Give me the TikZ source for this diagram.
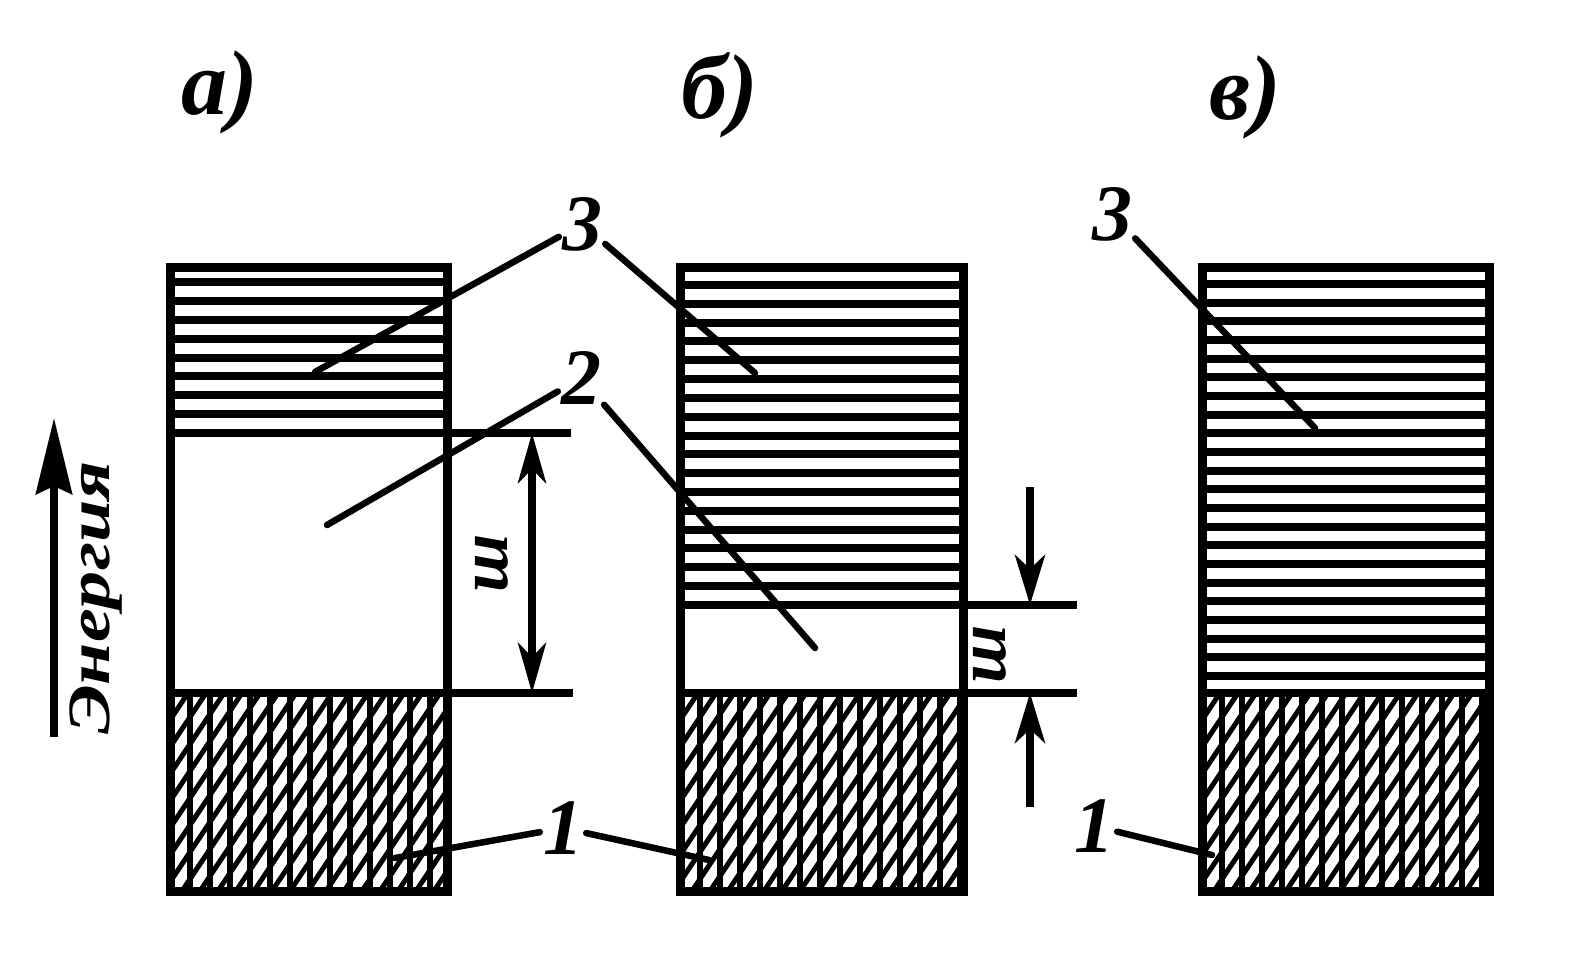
\documentclass[tikz,border=0pt]{standalone}
\usepackage{fontspec}
\setmainfont{Liberation Serif}
\usetikzlibrary{arrows.meta}

\begin{document}
\begin{tikzpicture}[x=1pt,y=-1pt]
        \tikzstyle{frame}=[line width=9pt]
        \tikzstyle{stripe}=[line width=8pt]
        \tikzstyle{hatch}=[line width=5.5pt]
        \tikzstyle{slant}=[line width=5pt]
        \tikzstyle{leader}=[line width=6.5pt,line cap=round]
        \tikzstyle{dimline}=[line width=7.5pt]
        \tikzstyle{tip}=[-{Stealth[length=50pt,width=30pt,inset=14pt]}]
        \tikzstyle{every node}=[font=\bfseries\itshape,inner sep=3pt]
        \tikzstyle{num}=[font=\bfseries\itshape\fontsize{80}{80}\selectfont]
        \tikzstyle{case}=[font=\bfseries\itshape\fontsize{92}{92}\selectfont]
        \tikzstyle{gap}=[font=\bfseries\itshape\fontsize{70}{70}\selectfont,rotate=90]
        \useasboundingbox (0,0) rectangle (1574,974);
        % lower bands, cross hatched
        \foreach \l/\r in {170/447,680/963,1202/1489}{
          \begin{scope}
            \clip (\l,693) rectangle (\r,891);
            \foreach \k in {0,...,14} \draw[hatch] (\l+20*\k,693) -- (\l+20*\k,891);
            \foreach \k in {0,...,22} \draw[slant] (\l,693+27*\k) -- (\l+320,693+27*\k-480);
          \end{scope}
        }
        % upper bands, striped
        \foreach \k in {0,...,8} \draw[stripe] (170,282+18.875*\k) -- (447,282+18.875*\k);
        \foreach \k in {0,...,17} \draw[stripe] (680,285+18.82*\k) -- (963,285+18.82*\k);
        \foreach \k in {0,...,21} \draw[stripe] (1202,284+18.67*\k) -- (1489,284+18.67*\k);
        % frames
        \draw[frame] (170,267) rectangle (447,891);
        \draw[frame] (680,267) rectangle (963,891);
        \draw[frame] (1202,267) rectangle (1489,891);
        \draw[dimline] (170,433) -- (571,433);
        \draw[dimline] (170,693) -- (573,693);
        \draw[dimline] (680,605) -- (1077,605);
        \draw[dimline] (680,693) -- (1077,693);
        \draw[dimline] (1202,693) -- (1489,693);
        % width of the gap
        \coordinate (wAtop) at (532,433);
        \coordinate (wAbot) at (532,693);
        \draw[dimline,{Stealth[length=50pt,width=28pt,inset=14pt]}-{Stealth[length=50pt,width=28pt,inset=14pt]}] (wAtop) -- (wAbot);
        \coordinate (wBtop) at (1030,605);
        \coordinate (wBbot) at (1030,693);
        \coordinate (wBin) at (1030,487);
        \coordinate (wBout) at (1030,807);
        \draw[dimline,tip] (wBin) -- (wBtop);
        \draw[dimline,tip] (wBout) -- (wBbot);
        \node[gap] (wA) at (492,563) {ш};
        \node[gap] (wB) at (990,654) {ш};
        % energy axis
        \coordinate (eLow) at (54,737);
        \coordinate (eHigh) at (54,418);
        \draw[line width=7.5pt,-{Stealth[length=76pt,width=36pt,inset=8pt]}] (eLow) -- (eHigh);
        \node[font=\bfseries\itshape\fontsize{60}{60}\selectfont,rotate=90,xscale=1.27] (energy) at (96,598) {Энергия};
        % case labels
        \node[case] (caseA) at (220,92) {а)};
        \node[case] (caseB) at (720,95) {б)};
        \node[case] (caseV) at (1245,97) {в)};
        % band numbers and leaders
        \node[num] (n3) at (582,224) {3};
        \node[num] (n2) at (581,378) {2};
        \node[num] (n1) at (563,828) {1};
        \node[num] (n3v) at (1112,214) {3};
        \node[num] (n1v) at (1094,826) {1};
        \coordinate (a3) at (315,372);
        \coordinate (b3) at (755,373);
        \coordinate (a2) at (327,525);
        \coordinate (b2) at (815,648);
        \coordinate (a1) at (395,858);
        \coordinate (b1) at (709,860);
        \coordinate (v3) at (1315,428);
        \coordinate (v1) at (1212,855);
        \draw[leader] (n3) -- (a3);
        \draw[leader] (n3) -- (b3);
        \draw[leader] (n2) -- (a2);
        \draw[leader] (n2) -- (b2);
        \draw[leader] (n1) -- (a1);
        \draw[leader] (n1) -- (b1);
        \draw[leader] (n3v) -- (v3);
        \draw[leader] (n1v) -- (v1);
\end{tikzpicture}
\end{document}
